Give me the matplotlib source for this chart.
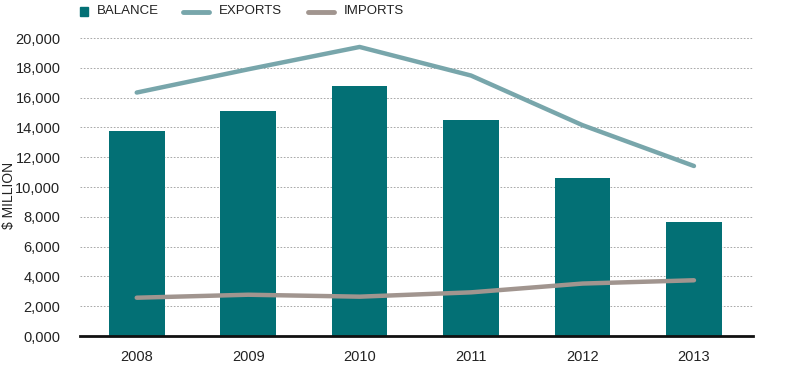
import matplotlib
matplotlib.use("Agg")
import matplotlib.pyplot as plt
from matplotlib.lines import Line2D
from matplotlib.patches import Rectangle

years = ["2008", "2009", "2010", "2011", "2012", "2013"]
balance = [13730, 15110, 16750, 14510, 10610, 7660]
exports = [16340, 17900, 19400, 17480, 14150, 11410]
imports = [2570, 2770, 2640, 2930, 3520, 3740]
yticks = [0, 2000, 4000, 6000, 8000, 10000, 12000, 14000, 16000, 18000, 20000]
ytick_labels = ["0,000", "2,000", "4,000", "6,000", "8,000", "10,000",
                "12,000", "14,000", "16,000", "18,000", "20,000"]

teal = "#037075"
exp_col = "#78A6AB"
imp_col = "#A1958F"
txt_col = "#222222"

plt.rcParams["font.family"] = ["Liberation Sans", "DejaVu Sans"]

W, H = 791, 384
fig = plt.figure(figsize=(W / 100, H / 100), dpi=100)
ax = fig.add_axes([0.101, 0.125, 0.851, 0.776])

x = list(range(len(years)))
ax.bar(x, balance, width=0.5, color=teal, zorder=2)
ax.plot(x, exports, color=exp_col, lw=3.2, solid_capstyle="round",
        solid_joinstyle="round", zorder=3)
ax.plot(x, imports, color=imp_col, lw=3.2, solid_capstyle="round",
        solid_joinstyle="round", zorder=3)

ax.set_xlim(-0.51, 5.53)
ax.set_ylim(0, 20000)
ax.set_yticks(yticks)
ax.set_yticklabels(ytick_labels)
ax.set_xticks(x)
ax.set_xticklabels(years)
ax.tick_params(axis="both", length=0, labelsize=10.5, colors=txt_col)
ax.tick_params(axis="y", pad=14)
ax.tick_params(axis="x", pad=10)

ax.grid(axis="y", color="#9a9a9a", linestyle=(0, (2, 2)), lw=0.6, zorder=0)
for s in ["top", "right", "left"]:
    ax.spines[s].set_visible(False)
ax.spines["bottom"].set_color("#111111")
ax.spines["bottom"].set_linewidth(2)
ax.spines["bottom"].set_zorder(4)

fig.text(0.012, 0.49, "$ MILLION", rotation=90, ha="center", va="center",
         fontsize=10, color=txt_col)

# legend drawn in figure pixel positions
ly = 1 - 11.5 / H
fig.patches.append(Rectangle((80 / W, 1 - 15.5 / H), 8 / W, 8 / H,
                             transform=fig.transFigure, color=teal))
fig.text(97 / W, ly, "BALANCE", va="center", fontsize=9.5, color=txt_col)
fig.lines.append(Line2D([183 / W, 209 / W], [ly, ly], transform=fig.transFigure,
                        color=exp_col, lw=3.5, solid_capstyle="round"))
fig.text(219 / W, ly, "EXPORTS", va="center", fontsize=9.5, color=txt_col)
fig.lines.append(Line2D([308 / W, 334 / W], [ly, ly], transform=fig.transFigure,
                        color=imp_col, lw=3.5, solid_capstyle="round"))
fig.text(344 / W, ly, "IMPORTS", va="center", fontsize=9.5, color=txt_col)

fig.savefig("out.png", dpi=100)
